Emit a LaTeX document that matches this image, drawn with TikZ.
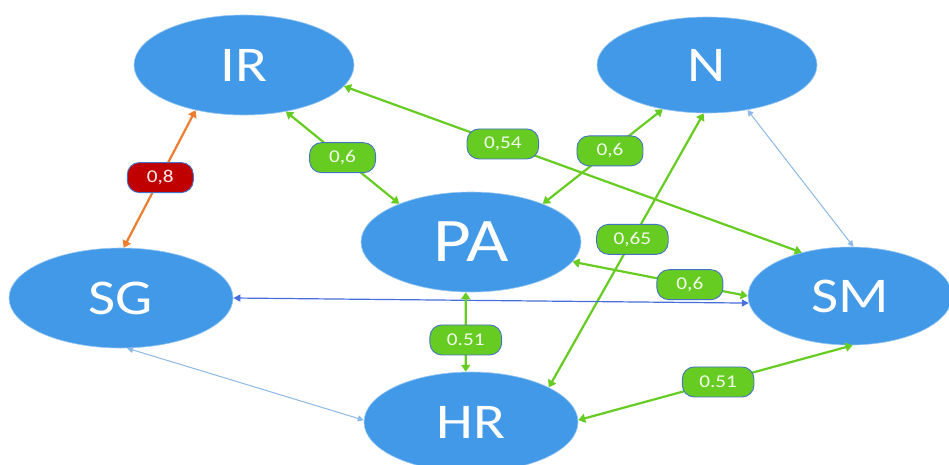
\documentclass[tikz,border=0pt]{standalone}
\usepackage{fontspec}
\setmainfont[FakeStretch=1.18]{Carlito}
\usetikzlibrary{shapes.geometric,arrows.meta}
\definecolor{nodeblue}{RGB}{66,153,232}
\definecolor{lgreen}{RGB}{102,204,34}
\definecolor{lblborder}{RGB}{68,114,196}
\definecolor{dred}{RGB}{192,0,0}
\definecolor{orangeln}{RGB}{237,125,49}
\definecolor{paleblue}{RGB}{140,185,230}
\definecolor{midblue}{RGB}{70,110,220}
\newcommand{\lt}[1]{\raisebox{-2pt}{#1}}
\begin{document}
\begin{tikzpicture}[x=1pt,y=-1pt,
  ent/.style={ellipse, fill=nodeblue, draw=nodeblue!55!white, line width=0.6pt, inner sep=0pt,
    minimum width=220pt, minimum height=100pt, text=white, font=\fontsize{50}{50}\selectfont},
  lbl/.style={rounded corners=12pt, fill=lgreen, draw=lblborder, line width=0.9pt, text=white!92!lgreen,
    minimum width=66pt, minimum height=30pt, inner xsep=17pt, inner ysep=0pt, font=\fontsize{18}{18}\selectfont},
  redlbl/.style={lbl, fill=dred, text=white!92!dred},
  gl/.style={draw=lgreen, line width=2.2pt, {Triangle[length=7pt,width=9pt]}-{Triangle[length=7pt,width=9pt]}},
  ol/.style={draw=orangeln, line width=2.2pt, {Triangle[length=7pt,width=9pt]}-{Triangle[length=7pt,width=9pt]}},
  pl/.style={draw=paleblue, line width=1pt, {Triangle[length=6pt,width=6pt]}-{Triangle[length=6pt,width=6pt]}},
  bl/.style={draw=midblue, line width=1.2pt, {Triangle[length=7pt,width=7pt]}-{Triangle[length=7pt,width=7pt]}}
]
\useasboundingbox (0,0) rectangle (949,464);
\fill[white] (0,0) rectangle (949,464);
\clip (0,0) rectangle (949,464);

\node[ent] (IR) at (244,65) {IR};
\node[ent, minimum height=96pt] (N) at (707,65) {N};
\node[ent, font=\fontsize{62}{62}\selectfont] (PA) at (471,242) {PA};
\node[ent, minimum width=224pt] (SG) at (121,298) {SG};
\node[ent, minimum width=204pt, minimum height=98pt] (SM) at (850,296) {SM};
\node[ent, minimum width=214pt] (HR) at (471,422) {HR};

\draw[ol] (IR.223) -- (SG.87) node[redlbl, pos=0.49] (l1) {\lt{0,8}};
\draw[gl] (IR.312) -- (PA.152.5) node[lbl, pos=0.5] (l2) {\lt{0,6}};
\draw[gl] (IR.348.4) -- (SM.138) node[lbl, pos=0.347] (l3) {\lt{0,54}};
\draw[gl] (N.225) -- (PA.28.5) node[lbl, pos=0.44] (l4) {\lt{0,6}};
\draw[gl] (N.266.6) -- (HR.24) node[lbl, pos=0.46] (l5) {\lt{0,65}};
\draw[pl] (N.312) -- (SM.86.6);
\draw[gl] (PA.349) -- (SM.180) node[lbl, pos=0.67] (l6) {\lt{0,6}};
\draw[bl] (SG.-0.5) -- (SM.184);
\draw[gl] (PA.264) -- (HR.96) node[lbl, pos=0.6] (l7) {\lt{0.51}};
\draw[pl] (SG.277) -- (HR.179);
\draw[gl] (HR.1) -- (SM.273) node[lbl, pos=0.51] (l8) {\lt{0.51}};
\end{tikzpicture}
\end{document}
